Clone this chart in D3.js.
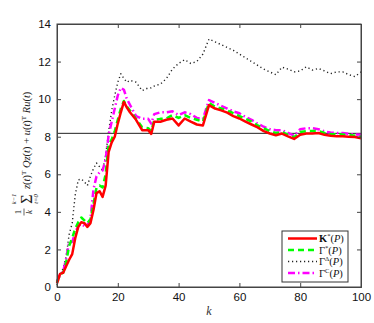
<!DOCTYPE html>
<html>
<head>
<meta charset="utf-8">
<script src="https://cdn.jsdelivr.net/npm/d3@7.9.0/dist/d3.min.js"></script>
<style>
  body { margin: 0; background: #fff; }
  text { font-family: "Liberation Sans", Arial, sans-serif; }
  text.math { font-family: "Liberation Serif", "DejaVu Serif", serif; }
</style>
</head>
<body>
<svg id="chart" width="374" height="323"></svg>
<script>
const kVals = [0,1,2,3,4,5,6,7,8,9,10,11,12,13,14,15,16,17,18,19,20,21,22,23,24,26,28,30,31,32,34,36,38,40,42,44,46,48,50,52,54,56,58,60,62,64,66,68,70,72,74,76,78,80,82,84,86,88,90,92,94,96,98,100];

const kStar = [0.2,0.7,0.75,1.1,1.45,1.75,2.6,3.2,3.45,3.4,3.2,3.4,4.1,5.0,5.1,4.8,5.4,7.2,7.7,8.0,8.7,9.3,9.85,9.55,9.3,8.9,8.35,8.35,8.15,8.8,8.8,8.9,8.97,8.6,8.97,8.8,8.65,8.6,9.68,9.5,9.4,9.28,9.1,8.97,8.8,8.65,8.5,8.3,8.17,8.08,8.17,8.02,7.88,8.1,8.17,8.17,8.2,8.1,8.05,8.03,8.02,8.0,7.98,7.92];

const gammaStar = [0.25,0.7,0.75,1.3,2.2,2.6,3.1,3.45,3.7,3.55,3.4,3.6,4.4,5.3,5.4,5.3,6.0,7.6,7.85,8.3,8.9,9.5,9.9,9.6,9.4,8.95,8.5,8.45,8.3,8.9,8.95,8.97,9.15,9.0,9.15,9.0,8.9,8.8,9.8,9.6,9.5,9.4,9.25,9.1,8.95,8.8,8.6,8.45,8.3,8.2,8.25,8.1,7.97,8.25,8.3,8.3,8.3,8.2,8.15,8.12,8.12,8.1,8.05,8.0];

const gammaDelta = [0.1,0.6,1.0,1.6,2.8,3.4,4.9,5.7,5.75,5.6,5.4,5.9,6.3,6.6,6.4,6.2,7.0,8.3,9.4,10.2,10.9,11.35,11.1,10.9,11.0,10.9,10.45,10.6,10.6,10.7,10.8,11.1,11.6,11.9,12.1,11.9,12.0,12.4,13.2,13.05,12.9,12.75,12.6,12.4,12.2,12.0,11.8,11.6,11.45,11.3,11.7,11.6,11.45,11.5,11.72,11.55,11.63,11.5,11.36,11.45,11.45,11.3,11.2,11.45];

const gammaC = [0.3,0.7,0.8,1.5,2.4,2.4,2.9,3.25,3.35,3.25,3.3,3.6,5.2,5.9,6.1,6.2,6.8,8.1,8.8,9.5,10.2,10.6,10.5,10.0,9.7,9.1,8.95,8.95,8.7,9.2,9.3,9.3,9.35,9.15,9.3,9.2,9.0,8.95,9.95,9.8,9.65,9.5,9.35,9.25,9.05,8.9,8.7,8.53,8.4,8.35,8.35,8.2,8.05,8.4,8.45,8.45,8.4,8.28,8.22,8.2,8.2,8.15,8.12,8.1];

const refLevel = 8.18;
const xTicks = [0,20,40,60,80,100];
const yTicks = [0,2,4,6,8,10,12,14];

const series = [
  { name: 'K', sup: '*', values: kStar, color: '#ff0000', width: 2.5, dash: null },
  { name: 'Γ', sup: '*', values: gammaStar, color: '#00ff00', width: 2.5, dash: '6,4' },
  { name: 'Γ', sup: 'Δ', values: gammaDelta, color: '#222', width: 1.4, dash: '1.2,2.8' },
  { name: 'Γ', sup: 'C', values: gammaC, color: '#ff00ff', width: 2.5, dash: '7,3,1.5,3' }
];

const svg = d3.select('#chart');
const margin = { top: 24, right: 13, bottom: 36, left: 57 };
const width = +svg.attr('width') - margin.left - margin.right;
const height = +svg.attr('height') - margin.top - margin.bottom;

const x = d3.scaleLinear().domain([0, 100]).range([0, width]);
const y = d3.scaleLinear().domain([0, 14]).range([height, 0]);

const chart = svg.append('g').attr('transform', `translate(${margin.left},${margin.top})`);

chart.append('line')
  .attr('x1', 0).attr('x2', width)
  .attr('y1', y(refLevel)).attr('y2', y(refLevel))
  .attr('stroke', '#222').attr('stroke-width', 1);

const line = d3.line().x((d, i) => x(kVals[i])).y(d => y(d));

// dotted first, then the others on top like the original
[2, 3, 1, 0].forEach(i => {
  const s = series[i];
  chart.append('path')
    .datum(s.values)
    .attr('d', line)
    .attr('fill', 'none')
    .attr('stroke', s.color)
    .attr('stroke-width', s.width)
    .attr('stroke-dasharray', s.dash)
    .attr('stroke-linejoin', 'round');
});

// axes: ticks inside, on all four sides
const tickLen = 4;
chart.append('g')
  .attr('transform', `translate(0,${height})`)
  .call(d3.axisBottom(x).tickValues(xTicks).tickSize(-tickLen).tickPadding(6));
chart.append('g')
  .call(d3.axisTop(x).tickValues(xTicks).tickSize(-tickLen).tickFormat(''));
chart.append('g')
  .call(d3.axisLeft(y).tickValues(yTicks).tickSize(-tickLen).tickPadding(6));
chart.append('g')
  .attr('transform', `translate(${width},0)`)
  .call(d3.axisRight(y).tickValues(yTicks).tickSize(-tickLen).tickFormat(''));

chart.selectAll('.domain').attr('stroke', '#444');
chart.selectAll('.tick line').attr('stroke', '#444');
chart.selectAll('.tick text').attr('font-size', 11.5).attr('fill', '#111')
  .style('font-family', '"Liberation Sans", Arial, sans-serif');

chart.append('rect')
  .attr('width', width).attr('height', height)
  .attr('fill', 'none').attr('stroke', '#444').attr('stroke-width', 1);

// x label
chart.append('text')
  .attr('class', 'math')
  .attr('x', x(50)).attr('y', height + 28)
  .attr('text-anchor', 'middle')
  .attr('font-size', 12).attr('font-style', 'italic').attr('fill', '#333')
  .text('k');

// y label, built from pieces
const yl = svg.append('g').attr('transform', 'translate(0,150) rotate(-90)').attr('fill', '#222');
const lab = (tx, ty, size, str, italic) => yl.append('text').attr('class', 'math')
  .attr('x', tx).attr('y', ty).attr('font-size', size)
  .attr('font-style', italic ? 'italic' : null)
  .attr('text-anchor', 'middle').text(str);
lab(-62, 21, 9, '1', false);
yl.append('line').attr('x1', -65.5).attr('x2', -58.5).attr('y1', 24).attr('y2', 24).attr('stroke', '#222').attr('stroke-width', 0.7);
lab(-62, 32, 9, 'k', true);
lab(-49, 31.5, 16, 'Σ', false);
lab(-49, 16, 6.5, 'k−1', true);
lab(-49, 38, 6.5, 't=0', true);
const main = yl.append('text').attr('class', 'math').attr('x', -39).attr('y', 30).attr('font-size', 10.5);
[['z', 1], ['(', 0], ['t', 1], [')', 0]].forEach(([c, it]) => main.append('tspan').attr('font-style', it ? 'italic' : null).text(c));
main.append('tspan').attr('font-size', 7).attr('dy', -4.5).text('T');
main.append('tspan').attr('dy', 4.5).attr('font-style', 'italic').text(' Qz');
[['(', 0], ['t', 1], [') + ', 0], ['u', 1], ['(', 0], ['t', 1], [')', 0]].forEach(([c, it]) => main.append('tspan').attr('font-style', it ? 'italic' : null).text(c));
main.append('tspan').attr('font-size', 7).attr('dy', -4.5).text('T');
main.append('tspan').attr('dy', 4.5).attr('font-style', 'italic').text(' Ru');
[['(', 0], ['t', 1], [')', 0]].forEach(([c, it]) => main.append('tspan').attr('font-style', it ? 'italic' : null).text(c));

// legend
const lg = svg.append('g').attr('transform', 'translate(282,231)');
lg.append('rect').attr('width', 66).attr('height', 51)
  .attr('fill', '#fff').attr('stroke', '#333').attr('stroke-width', 1);
series.forEach((s, i) => {
  const ly = 7.5 + i * 11.5;
  lg.append('line')
    .attr('x1', 6).attr('x2', 35).attr('y1', ly).attr('y2', ly)
    .attr('stroke', s.color).attr('stroke-width', s.width)
    .attr('stroke-dasharray', s.dash);
  const t = lg.append('text').attr('class', 'math')
    .attr('x', 37).attr('y', ly + 3.5).attr('font-size', 10.5).attr('fill', '#111');
  t.append('tspan').attr('font-weight', s.name === 'K' ? 'bold' : null).text(s.name);
  t.append('tspan').attr('font-size', 6.5).attr('dy', -4).text(s.sup);
  t.append('tspan').attr('dy', 4).text('(');
  t.append('tspan').attr('font-style', 'italic').text('P');
  t.append('tspan').text(')');
});
</script>
</body>
</html>
